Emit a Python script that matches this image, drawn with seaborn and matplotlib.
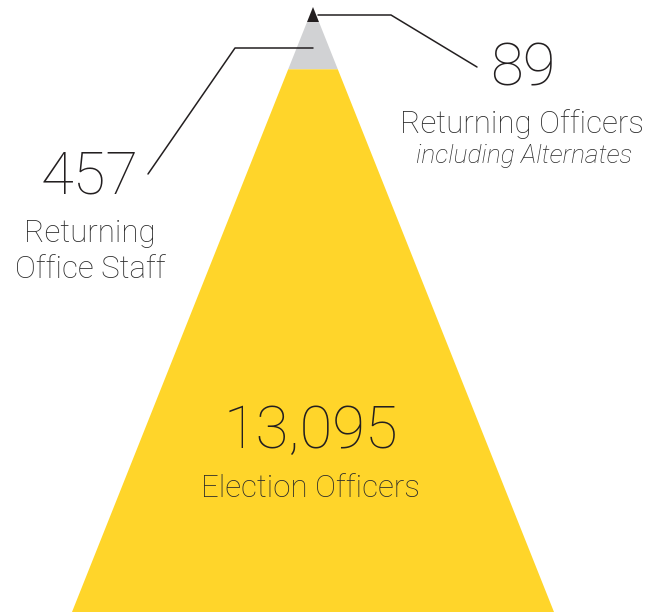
import numpy as np
import matplotlib.pyplot as plt
import seaborn as sns

sns.set_theme(style="white")
plt.rcParams['font.family'] = ['Roboto', 'DejaVu Sans']

# data
counts = [89, 457, 13095]
numbers = ["89", "457", "13,095"]
labels = ["Returning Officers", "Returning\nOffice Staff", "Election Officers"]
sublabels = ["including Alternates", "", ""]
colors = ["#231F20", "#D1D2D4", "#FFD52A"]
# layer boundaries as fraction of pyramid height (stylised, not to scale)
edges = [0.0, 0.025, 0.103, 1.0]

W, H = 663, 612
apex_x, apex_y = 313, 7
base_half = 241
height = H - apex_y

fig = plt.figure(figsize=(W / 100, H / 100), dpi=100)
ax = fig.add_axes([0, 0, 1, 1])
ax.set_xlim(0, W)
ax.set_ylim(H, 0)
ax.axis('off')

for i in range(3):
    t0, t1 = edges[i], edges[i + 1]
    y0, y1 = apex_y + t0 * height, apex_y + t1 * height
    h0, h1 = base_half * t0, base_half * t1
    xs = [apex_x - h0, apex_x + h0, apex_x + h1, apex_x - h1]
    ys = [y0, y0, y1, y1]
    ax.fill(xs, ys, color=colors[i], lw=0)

# leader lines
ax.plot([318, 391, 477], [15, 15, 67], color="#231F20", lw=1.1)
ax.plot([313, 235, 148], [48, 48, 174], color="#231F20", lw=1.1)

txt = "#231F20"
lab = "#2B2B2B"
num_kw = dict(ha='center', va='baseline', fontsize=43, fontweight='light', color=txt)
lab_kw = dict(ha='center', va='baseline', fontsize=22.5, fontweight='light', color=lab)

# top layer
ax.text(523, 85, numbers[0], **num_kw)
ax.text(522, 133, labels[0], **lab_kw)
ax.text(524, 163, sublabels[0], ha='center', va='baseline', fontsize=19,
        fontstyle='italic', fontweight='light', color=lab)

# middle layer
ax.text(90, 194, numbers[1], **num_kw)
ax.text(90, 242, "Returning", **lab_kw)
ax.text(90, 278, "Office Staff", **lab_kw)

# bottom layer
ax.text(311, 448, numbers[2], **num_kw)
ax.text(310, 497, labels[2], **lab_kw)

fig.savefig("out.png", dpi=100)
